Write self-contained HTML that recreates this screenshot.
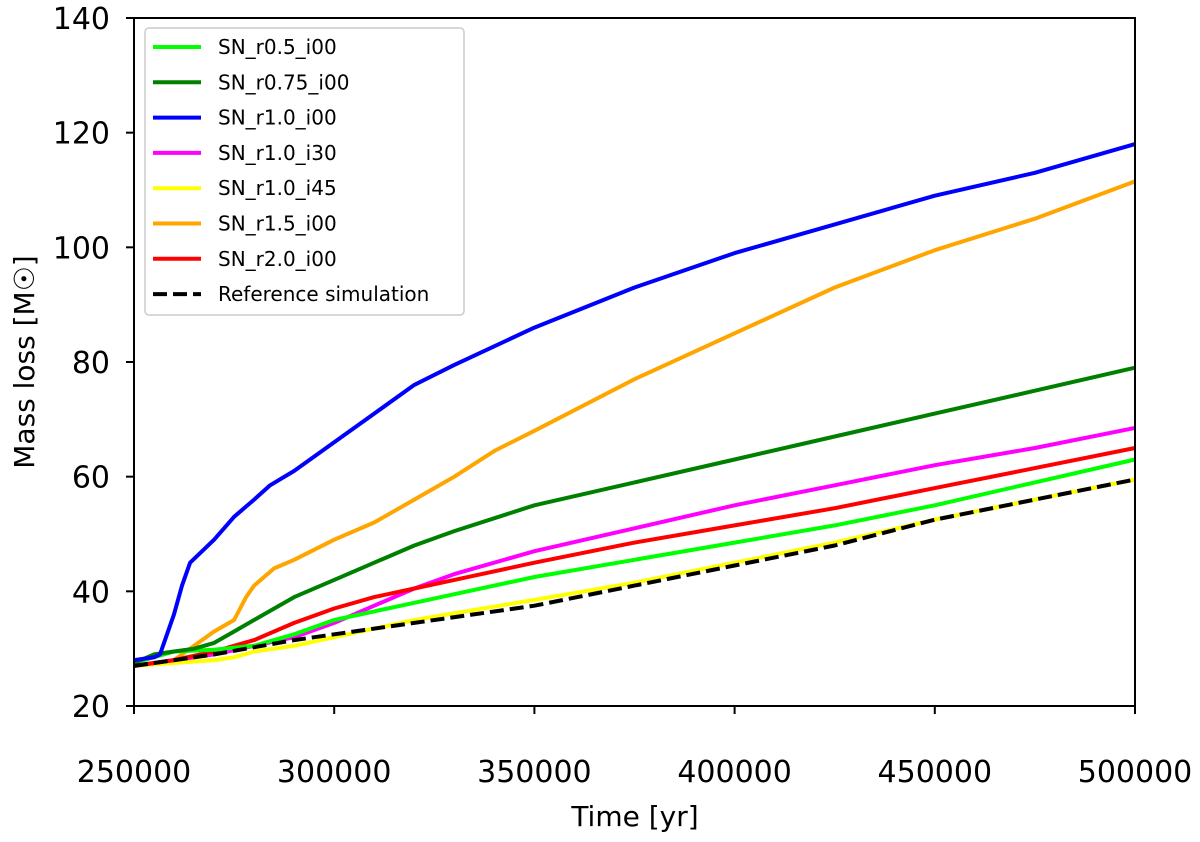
<!DOCTYPE html>
<html><head><meta charset="utf-8"><style>
body{margin:0;background:#fff;}
svg text{font-family:"DejaVu Sans","Liberation Sans",sans-serif;fill:#000;}
</style></head><body>
<svg id="chart" width="1200" height="837" xmlns="http://www.w3.org/2000/svg">
<g id="plot"></g>
<g id="axes"></g>
<g id="legend"></g>
</svg>
<script>
const xTicks=[250000,300000,350000,400000,450000,500000];
const yTicks=[20,40,60,80,100,120,140];
const names=["SN_r0.5_i00","SN_r0.75_i00","SN_r1.0_i00","SN_r1.0_i30","SN_r1.0_i45","SN_r1.5_i00","SN_r2.0_i00","Reference simulation"];
const colors=["#00ff00","#008000","#0000ff","#ff00ff","#ffff00","#ffa500","#ff0000","#000000"];
const tGreen=[250000,260000,270000,280000,290000,300000,310000,320000,330000,350000,375000,400000,425000,450000,475000,500000];
const vGreen=[27.5,29.5,29.8,30.5,32.5,35,36.5,38,39.5,42.5,45.5,48.5,51.5,55,59,63];
const tDark=[250000,255000,260000,265000,270000,275000,280000,290000,300000,310000,320000,330000,350000,375000,400000,425000,450000,475000,500000];
const vDark=[27.5,29,29.5,30,31,33,35,39,42,45,48,50.5,55,59,63,67,71,75,79];
const tBlue=[250000,255000,256500,258000,260000,262000,264000,270000,275000,280000,284000,290000,300000,310000,320000,330000,350000,375000,400000,425000,450000,475000,500000];
const vBlue=[28,28.5,29,32,36,41,45,49,53,56,58.5,61,66,71,76,79.5,86,93,99,104,109,113,118];
const tMag=[250000,260000,270000,280000,290000,300000,310000,320000,330000,350000,375000,400000,425000,450000,475000,500000];
const vMag=[27,28,29,30.5,32,34.5,37.5,40.5,43,47,51,55,58.5,62,65,68.5];
const tYel=[250000,260000,270000,275000,280000,290000,300000,320000,350000,375000,400000,425000,450000,475000,500000];
const vYel=[27,27.5,28,28.5,29.5,30.5,32,35,38.5,41.5,45,48.5,52.5,56,59.5];
const tOrg=[250000,260000,262000,265000,270000,275000,278000,280000,285000,290000,300000,310000,320000,330000,340000,350000,375000,400000,425000,450000,475000,500000];
const vOrg=[27,28,29,30.5,33,35,39,41,44,45.5,49,52,56,60,64.5,68,77,85,93,99.5,105,111.5];
const tRed=[250000,260000,270000,280000,290000,300000,310000,320000,330000,350000,375000,400000,425000,450000,475000,500000];
const vRed=[27,28,29.5,31.5,34.5,37,39,40.5,42,45,48.5,51.5,54.5,58,61.5,65];
const tRef=[250000,270000,290000,300000,320000,350000,375000,400000,425000,450000,475000,500000];
const vRef=[27,29,31.5,32.5,34.5,37.5,41,44.5,48,52.5,56,59.5];

const X0=134,X1=1135,Y0=706,Y1=18;
const xs=t=>X0+(t-250000)/250000*(X1-X0);
const ys=v=>Y0-(v-20)/120*(Y0-Y1);
const NS="http://www.w3.org/2000/svg";
function mk(tag,attrs,parent){const e=document.createElementNS(NS,tag);for(const k in attrs)e.setAttribute(k,attrs[k]);parent.appendChild(e);return e;}
const plot=document.getElementById('plot'),axes=document.getElementById('axes'),legend=document.getElementById('legend');
const series=[[tGreen,vGreen],[tDark,vDark],[tBlue,vBlue],[tMag,vMag],[tYel,vYel],[tOrg,vOrg],[tRed,vRed],[tRef,vRef]];
const order=[4,5,3,6,0,1,2,7];
order.forEach(i=>{
  const [t,v]=series[i];
  const d=t.map((tt,j)=>(j?'L':'M')+xs(tt).toFixed(1)+','+ys(v[j]).toFixed(1)).join(' ');
  const p=mk('path',{d:d,fill:'none',stroke:colors[i],'stroke-width':4,'stroke-linejoin':'round'},plot);
  if(i===7)p.setAttribute('stroke-dasharray','14,6');
  
  
});
mk('rect',{x:X0,y:Y1,width:X1-X0,height:Y0-Y1,fill:'none',stroke:'#000','stroke-width':2},axes);
xTicks.forEach(t=>{
  mk('line',{x1:xs(t),x2:xs(t),y1:Y0,y2:Y0+8,stroke:'#000','stroke-width':2},axes);
  const tx=mk('text',{x:xs(t),y:Y0+76,'text-anchor':'middle','font-size':30},axes);
  tx.textContent=t;
  
  
});
yTicks.forEach(v=>{
  mk('line',{x1:X0-8,x2:X0,y1:ys(v),y2:ys(v),stroke:'#000','stroke-width':2},axes);
  const tx=mk('text',{x:X0-24,y:ys(v)+11,'text-anchor':'end','font-size':30},axes);
  tx.textContent=v;
  
  
});
const xl=mk('text',{x:635,y:826,'text-anchor':'middle','font-size':28},axes);
xl.textContent='Time [yr]';


const yl=mk('text',{x:0,y:0,'text-anchor':'middle','font-size':28,transform:'translate(34,362) rotate(-90)'},axes);
yl.textContent='Mass loss [M☉]';


mk('rect',{x:145,y:28,width:319,height:287,rx:4,fill:'#fff','fill-opacity':0.9,stroke:'#ccc','stroke-width':1.5},legend);
names.forEach((n,i)=>{
  const y=47+i*35.3;
  const l=mk('line',{x1:153,x2:201,y1:y,y2:y,stroke:colors[i],'stroke-width':4},legend);
  if(i===7){l.setAttribute('stroke-dasharray','14,6');}
  
  
  const tx=mk('text',{x:218,y:y+7,'font-size':20},legend);
  tx.textContent=n;
  
  
});
</script>
</body></html>
